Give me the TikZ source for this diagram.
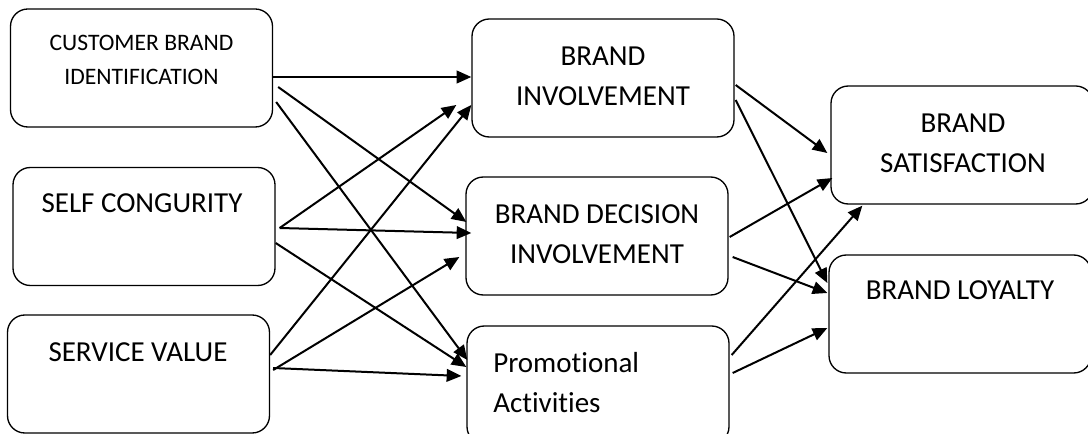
\documentclass[tikz,border=0pt]{standalone}
\usepackage{fontspec}
\setmainfont{Carlito}[Ligatures=NoCommon]
\usetikzlibrary{arrows.meta,calc}

\begin{document}
\begin{tikzpicture}[x=0.75pt,y=-0.75pt,
box/.style={draw=black,line width=1pt,rounded corners=13pt,minimum width=196.5pt,minimum height=88.5pt,inner sep=0pt},
big/.style={font=\fontsize{21.75}{30}\selectfont,align=center,inner sep=0pt},
small/.style={font=\fontsize{17.7}{25.5}\selectfont,align=center,inner sep=0pt},
link/.style={line width=1.5pt,-{Triangle[length=11pt,width=9.5pt]}}]
\useasboundingbox (0,0) rectangle (1088,434);
\clip (0,0) rectangle (1088,434);
\node [box] (cbi) at (141.5,68) {};
\node [small] (cbi-t) at (141.5,60) {CUSTOMER BRAND\\IDENTIFICATION};
\node [box] (sc) at (144,226.5) {};
\node [big] (sc-t) at (142,203) {SELF CONGURITY};
\node [box] (sv) at (138.5,374) {};
\node [big] (sv-t) at (138,352) {SERVICE VALUE};
\node [box] (bi) at (603,78) {};
\node [big] (bi-t) at (603,76) {BRAND\\INVOLVEMENT};
\node [box] (bdi) at (597,236) {};
\node [big] (bdi-t) at (597,234) {BRAND DECISION\\INVOLVEMENT};
\node [box] (pa) at (598,385) {};
\node [big,align=left,anchor=west] (pa-t) at (493,383) {Promotional\\Activities};
\node [box] (bs) at (962,145) {};
\node [big] (bs-t) at (963,143) {BRAND\\SATISFACTION};
\node [box] (bl) at (960,314) {};
\node [big] (bl-t) at (960,290) {BRAND LOYALTY};
\draw [link] ($(cbi.east)+(0,9)$) -- ($(bi.west)+(0,-1)$);
\draw [link] ($(cbi.east)+(5,19)$) -- ($(bdi.west)+(1,-14)$);
\draw [link] ($(cbi.east)+(3,34)$) -- ($(pa.west)+(1,-25)$);
\draw [link] ($(sc.east)+(4,1.5)$) -- ($(bi.west)+(-15,27)$);
\draw [link] ($(sc.east)+(4,1.5)$) -- ($(bdi.west)+(6,-3)$);
\draw [link] ($(sc.east)+(0,16.5)$) -- ($(pa.west)+(0,-18)$);
\draw [link] ($(sv.east)+(0,-19)$) -- ($(bi.west)+(0,27)$);
\draw [link] ($(sv.east)+(3,-4)$) -- ($(bdi.west)+(-6,21)$);
\draw [link] ($(sv.east)+(3,-6)$) -- ($(pa.west)+(-5,-9)$);
\draw [link] ($(bi.east)+(1,7)$) -- ($(bs.west)+(-3,8)$);
\draw [link] ($(bi.east)+(1,22)$) -- ($(bl.west)+(-1,-31)$);
\draw [link] ($(bdi.east)+(1,1)$) -- ($(bs.west)+(2,33)$);
\draw [link] ($(bdi.east)+(4,21)$) -- ($(bl.west)+(-1,-21)$);
\draw [link] ($(pa.east)+(2,-30)$) -- ($(bs.south west)+(32,1)$);
\draw [link] ($(pa.east)+(3,-12)$) -- ($(bl.west)+(-1,14)$);
\end{tikzpicture}
\end{document}
